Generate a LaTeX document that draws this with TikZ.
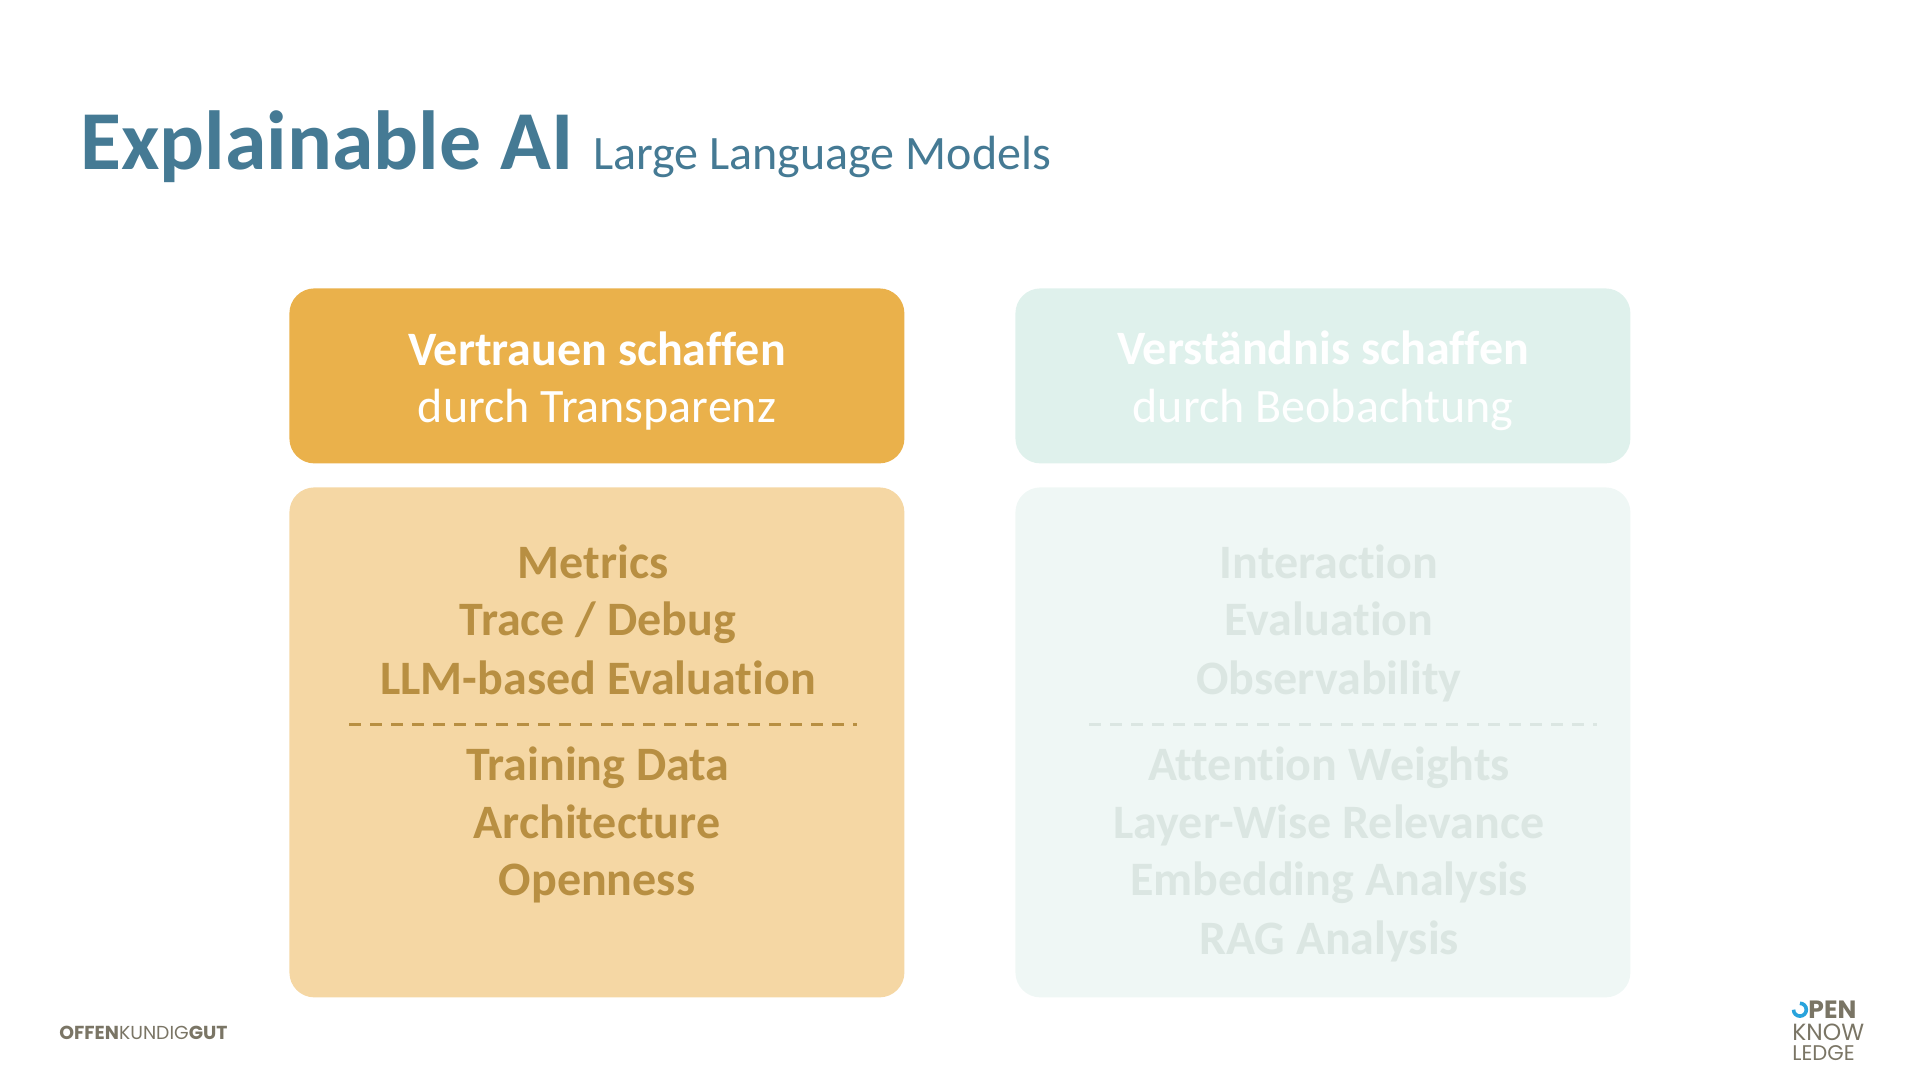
\documentclass[tikz,border=0pt]{standalone}
\usepackage{fontspec}
\setmainfont{Carlito}[Ligatures=NoCommon]
\newfontfamily\logofont{Poppins}
\usetikzlibrary{positioning}
\definecolor{oktitle}{RGB}{69,122,148}
\definecolor{okorange}{RGB}{234,177,75}
\definecolor{okpeach}{RGB}{245,215,164}
\definecolor{okbrown}{RGB}{184,143,66}
\definecolor{okmint}{RGB}{223,241,236}
\definecolor{okpale}{RGB}{239,247,245}
\definecolor{okgrey}{RGB}{219,230,226}
\definecolor{oklogo}{RGB}{122,117,101}
\definecolor{okblue}{RGB}{41,163,220}
\tikzset{
  headbox/.style={rounded corners=12.5pt,minimum width=307.5pt,inner sep=0pt,anchor=north west},
  bodybox/.style={headbox},
  headtext/.style={white,font=\fontsize{24}{28.8}\selectfont,align=center},
  itemtext/.style={anchor=base,inner sep=0pt,font=\fontsize{24}{29}\selectfont\bfseries},
  divider/.style={line width=1.5pt,dash pattern=on 6.2pt off 4.3pt},
  logotext/.style={anchor=base west,inner sep=0pt,text=oklogo},
}

\begin{document}
\begin{tikzpicture}[x=.5pt,y=-.5pt]
    \useasboundingbox (0,0) rectangle (1920,1080);
    % title
    \node[anchor=base west,inner sep=0pt,text=oktitle,font=\fontsize{41.9}{48}\selectfont\bfseries] (title) at (80,170) {Explainable AI};
    \node[anchor=base west,inner sep=0pt,text=oktitle,font=\fontsize{24}{29}\selectfont] (subtitle) at (593,170) {Large Language Models};
    % boxes
    \node[headbox,fill=okorange,minimum height=87.5pt] (headL) at (289,288) {};
    \node[bodybox,fill=okpeach,minimum height=255pt] (bodyL) at (289,487) {};
    \node[headbox,fill=okmint,minimum height=87.5pt] (headR) at (1015,288) {};
    \node[bodybox,fill=okpale,minimum height=255pt] (bodyR) at (1015,487) {};
    \node[headtext] (trustL) at (597,381) {\textbf{Vertrauen schaffen}\\durch Transparenz};
    \node[headtext] (trustR) at (1323,381) {\textbf{Verständnis schaffen}\\durch Beobachtung};
    % items
    \foreach \x/\y/\t/\n in {593/578/Metrics/a,598/635/{Trace / Debug}/b,598/694/LLM-based Evaluation/c,598/780/Training Data/d,597/838/Architecture/e,597/895/Openness/f}{
      \node[itemtext,text=okbrown] (itemL\n) at (\x,\y) {\t};
    }
    \foreach \y/\t/\n in {578/Interaction/a,635/Evaluation/b,694/Observability/c,780/Attention Weights/d,838/Layer-Wise Relevance/e,895/Embedding Analysis/f,954/RAG Analysis/g}{
      \node[itemtext,text=okgrey] (itemR\n) at (1329,\y) {\t};
    }
    % dashed lines
    \coordinate (dashLa) at (349,724); \coordinate (dashLb) at (857,724);
    \coordinate (dashRa) at (1089,724); \coordinate (dashRb) at (1597,724);
    \draw[divider,okbrown] (dashLa)--(dashLb);
    \draw[divider,okgrey] (dashRa)--(dashRb);
    % logos
    \node[logotext,font=\logofont\fontsize{9.4}{11}\selectfont] (offen) at (59,1039) {\textbf{OFFEN}KUNDIG\textbf{GUT}};
    \coordinate (ringstart) at (1793.5,1009.7);
    \draw[okblue,line width=1.8pt] (ringstart) arc[start angle=180,end angle=450,radius=3.2pt];
    \node[logotext,font=\logofont\fontsize{12.5}{13}\selectfont\bfseries] (open) at (1808,1018) {PEN};
    \node[logotext,font=\logofont\fontsize{11.7}{13}\selectfont] (know) at (1792,1040) {KNOW};
    \node[logotext,font=\logofont\fontsize{10.6}{13}\selectfont] (ledge) at (1792,1060) {LEDGE};
\end{tikzpicture}
\end{document}
